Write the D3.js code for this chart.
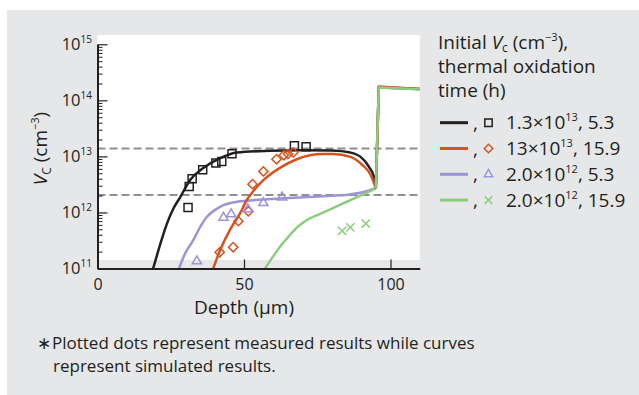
<!DOCTYPE html>
<html><head><meta charset="utf-8">
<script src="https://cdn.jsdelivr.net/npm/d3@7"></script>
<style>
body{margin:0;background:#fff}
svg{display:block;font-family:"Open Sans",sans-serif}
</style>
</head><body>
<svg id="chart" width="639" height="395"></svg>
<script>
// ---------- DATA ----------
const depthTicks = [0, 50, 100];
const yTickExponents = [11, 12, 13, 14, 15];
const referenceLevels = [1.38e13, 2.05e12]; // dashed lines (initial Vc levels)

// simulated curves: [depth µm, Vc cm^-3]; last two points are the step into substrate
const curveBlack = [[19,1.0e11],[21.5,2.8e11],[23.8,6.5e11],[26,1.2e12],[28.3,1.9e12],[31.6,3.8e12],[36.1,6.2e12],[41.9,9.3e12],[47.5,1.17e13],[58.9,1.26e13],[69.3,1.29e13],[80,1.27e13],[86.3,1.17e13],[89.8,9.8e12],[92.6,6.6e12],[94.5,4.1e12],[95.0,2.7e12],[96.0,1.72e14],[110,1.6e14]];
const curveOrange = [[39.5,1.0e11],[41.8,2.1e11],[45.2,4.9e11],[48.6,9.5e11],[50.9,1.65e12],[52.6,2.2e12],[56.7,3.8e12],[62.4,6.3e12],[68,8.9e12],[77,1.1e13],[80.5,1.1e13],[86.3,9.8e12],[90.3,7.1e12],[93.2,4.7e12],[95.0,2.7e12],[96.0,1.76e14],[110,1.6e14]];
const curvePurple = [[27.8,1.0e11],[30,1.9e11],[32.7,3.2e11],[35,5.5e11],[37.3,8.3e11],[40,1.1e12],[43,1.35e12],[46,1.5e12],[50.9,1.62e12],[56,1.7e12],[62.3,1.78e12],[77,1.95e12],[86,2.1e12],[90.5,2.3e12],[95.0,2.7e12],[96.0,1.7e14],[110,1.58e14]];
const curveGreen = [[57.2,1.0e11],[60,1.66e11],[62.3,2.45e11],[65,3.6e11],[67.4,5.0e11],[70,6.5e11],[72,7.6e11],[76,9.4e11],[80,1.17e12],[84,1.46e12],[88,1.82e12],[92,2.26e12],[95.0,2.7e12],[96.0,1.7e14],[110,1.58e14]];

// measured points
const measuredBlack = [[30.9,1.23e12],[31.3,2.9e12],[32.3,4.0e12],[35.9,5.8e12],[40.4,7.6e12],[42.4,8.1e12],[45.9,1.12e13],[67.2,1.55e13],[71.2,1.48e13]];
const measuredOrange = [[41.7,1.95e11],[46.3,2.4e11],[48.1,7.0e11],[51.5,1.05e12],[52.9,3.2e12],[56.6,5.4e12],[61.1,8.9e12],[63.6,1.05e13],[65.0,1.1e13],[66.8,1.17e13]];
const measuredPurple = [[33.9,1.35e11],[43,8.1e11],[45.6,9.3e11],[51.3,1.15e12],[56.6,1.48e12],[63.0,1.86e12]];
const measuredGreen = [[83.5,4.7e11],[86.3,5.4e11],[91.6,6.3e11]];

// legend
const legendCoef = ["1.3", "13", "2.0", "2.0"];
const legendExp = ["13", "13", "12", "12"];
const legendTime = ["5.3", "15.9", "5.3", "15.9"];

// ---------- STYLE ----------
const colors = ["#231f20", "#d4531f", "#9c95d5", "#8ccc7e"];
const symbols = [d3.symbolSquare2, d3.symbolDiamond2, d3.symbolTriangle2, d3.symbolTimes];
const symSizes = [82, 55, 60, 46];
const ink = "#231f20";

const curves = [curveBlack, curveOrange, curvePurple, curveGreen];
const measured = [measuredBlack, measuredOrange, measuredPurple, measuredGreen];

const svg = d3.select("#chart");

// panel background
svg.append("rect").attr("x", 7).attr("y", 10).attr("width", 632).attr("height", 385).attr("fill", "#e6e7e9");

const x = d3.scaleLinear().domain([0, 110]).range([97.5, 419.8]);
const y = d3.scaleLog().domain([1e11, 1e15]).range([268.5, 44.3]);

// white plot area
svg.append("rect").attr("x", x(0)).attr("y", 35).attr("width", x(110) - x(0)).attr("height", 225).attr("fill", "#fff");

// dashed reference lines
svg.selectAll("line.ref").data(referenceLevels).join("line")
  .attr("x1", x(0)).attr("x2", x(110))
  .attr("y1", d => y(d)).attr("y2", d => y(d))
  .attr("stroke", "#8f8f8f").attr("stroke-width", 2).attr("stroke-dasharray", "8,4");

// curves
const smooth = d3.line().x(d => x(d[0])).y(d => y(d[1])).curve(d3.curveMonotoneX);
const straight = d3.line().x(d => x(d[0])).y(d => y(d[1]));
const drawOrder = [0, 2, 1, 3];
drawOrder.forEach(i => {
  const c = curves[i];
  const n = c.length;
  svg.append("path").attr("d", smooth(c.slice(0, n - 2))).attr("fill", "none")
    .attr("stroke", colors[i]).attr("stroke-width", 2.5);
});
drawOrder.forEach(i => {
  const c = curves[i];
  const n = c.length;
  svg.append("path").attr("d", straight(c.slice(n - 3))).attr("fill", "none")
    .attr("stroke", colors[i]).attr("stroke-width", 2.5).attr("stroke-linejoin", "round");
});

// measured markers
measured.forEach((pts, i) => {
  svg.append("g").selectAll("path").data(pts).join("path")
    .attr("transform", d => `translate(${x(d[0])},${y(d[1])})`)
    .attr("d", d3.symbol().type(symbols[i]).size(symSizes[i]))
    .attr("fill", "none").attr("stroke", colors[i]).attr("stroke-width", 1.5);
});

// y axis
const minors = [];
for (let e = 11; e < 15; e++) for (let m = 2; m <= 9; m++) minors.push(m * Math.pow(10, e));
const majors = yTickExponents.map(e => Math.pow(10, e));
const gyMinor = svg.append("g").attr("transform", `translate(${x(0)},0)`)
  .call(d3.axisRight(y).tickValues(minors).tickSize(5).tickFormat(() => ""));
gyMinor.select(".domain").remove();
gyMinor.selectAll(".tick line").attr("stroke", ink).attr("stroke-width", 1);
const gyMajor = svg.append("g").attr("transform", `translate(${x(0)},0)`)
  .call(d3.axisRight(y).tickValues(majors).tickSize(10).tickSizeOuter(0).tickFormat(() => ""));
gyMajor.select(".domain").attr("stroke", ink).attr("stroke-width", 2);
gyMajor.selectAll(".tick line").attr("stroke", ink).attr("stroke-width", 1.2);

const yl = svg.append("g").selectAll("text").data(yTickExponents).join("text")
  .attr("x", 92).attr("y", e => y(Math.pow(10, e)) + 5.7)
  .attr("text-anchor", "end").attr("fill", ink).attr("font-size", 16.5);
yl.append("tspan").text("10");
yl.append("tspan").attr("font-size", 10).attr("dy", -7.3).text(e => e);

// x axis
const gx = svg.append("g").attr("transform", `translate(0,${y(1e11)})`)
  .call(d3.axisBottom(x).tickValues(depthTicks).tickSizeInner(-9).tickSizeOuter(0).tickPadding(10));
gx.attr("font-family", null).attr("font-size", 16);
gx.select(".domain").attr("stroke", ink).attr("stroke-width", 2);
gx.selectAll(".tick line").attr("stroke", ink).attr("stroke-width", 1.2);
gx.selectAll(".tick text").attr("fill", ink);

// axis titles
svg.append("text").attr("x", x(50)).attr("y", 314.3).attr("text-anchor", "middle")
  .attr("font-size", 19).attr("fill", ink).text("Depth (μm)");

const ylab = svg.append("text").attr("transform", "translate(46.5,148.5) rotate(-90)")
  .attr("text-anchor", "middle").attr("font-size", 19).attr("fill", ink);
ylab.append("tspan").attr("font-style", "italic").text("V");
ylab.append("tspan").attr("font-size", 12).attr("dy", 4).text("C");
ylab.append("tspan").attr("dy", -4).text(" (cm");
ylab.append("tspan").attr("font-size", 11).attr("dy", -8).text("−3");
ylab.append("tspan").attr("dy", 8).text(")");

// legend title
const lt1 = svg.append("text").attr("x", 438).attr("y", 48.5).attr("font-size", 19).attr("fill", ink);
lt1.append("tspan").text("Initial ");
lt1.append("tspan").attr("font-style", "italic").text("V");
lt1.append("tspan").attr("font-size", 12).attr("dy", 3).text("c");
lt1.append("tspan").attr("dy", -3).text(" (cm");
lt1.append("tspan").attr("font-size", 11).attr("dy", -8).text("−3");
lt1.append("tspan").attr("dy", 8).text("),");
svg.append("text").attr("x", 438).attr("y", 72.8).attr("font-size", 19).attr("fill", ink).text("thermal oxidation");
svg.append("text").attr("x", 438).attr("y", 97).attr("font-size", 19).attr("fill", ink).text("time (h)");

// legend entries
const leg = svg.append("g").selectAll("g").data(d3.range(4)).join("g")
  .attr("transform", i => `translate(0,${122.7 + i * 25.8})`);
leg.append("line").attr("x1", 440).attr("x2", 468).attr("y1", 0).attr("y2", 0)
  .attr("stroke", i => colors[i]).attr("stroke-width", 3);
leg.append("text").attr("x", 473).attr("y", 7).attr("font-size", 19).attr("fill", ink).text(",");
leg.append("path").attr("transform", "translate(488.5,0)")
  .attr("d", i => d3.symbol().type(symbols[i]).size(symSizes[i] * 0.85)())
  .attr("fill", "none").attr("stroke", i => colors[i]).attr("stroke-width", 1.5);
const lt = leg.append("text").attr("x", 506).attr("y", 6.6).attr("font-size", 19).attr("fill", ink);
lt.append("tspan").text(i => legendCoef[i] + "×10");
lt.append("tspan").attr("font-size", 11).attr("dy", -8).text(i => legendExp[i]);
lt.append("tspan").attr("dy", 8).text(i => ", " + legendTime[i]);

// footnote
svg.append("text").attr("x", 37).attr("y", 348.5).attr("font-size", 17).attr("fill", ink).text("∗");
svg.append("text").attr("x", 52).attr("y", 348.5).attr("font-size", 17).attr("fill", ink)
  .text("Plotted dots represent measured results while curves");
svg.append("text").attr("x", 53).attr("y", 372).attr("font-size", 17).attr("fill", ink)
  .text("represent simulated results.");
</script>
</body></html>
